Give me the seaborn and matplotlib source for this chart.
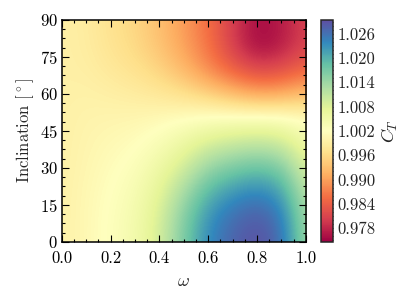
import matplotlib

matplotlib.use("Agg")
import matplotlib.pyplot as plt
import numpy as np
import seaborn as sns
from matplotlib.ticker import AutoMinorLocator, FixedLocator, FormatStrFormatter

# omega on x, inclination (deg) on y
OMEGA = [0.0, 0.1, 0.2, 0.3, 0.4, 0.5, 0.6, 0.7, 0.8, 0.9, 1.0]
INCL = [0, 10, 20, 30, 40, 50, 60, 70, 80, 90]

# C_T values, one row per inclination
CT_I00 = [0.9996, 1.0008, 1.0025, 1.0045, 1.0090, 1.0170, 1.0240, 1.0275, 1.0293, 1.0265, 1.0130]
CT_I10 = [0.9996, 1.0008, 1.0024, 1.0043, 1.0086, 1.0162, 1.0230, 1.0264, 1.0283, 1.0253, 1.0124]
CT_I20 = [0.9996, 1.0007, 1.0021, 1.0037, 1.0074, 1.0135, 1.0198, 1.0228, 1.0245, 1.0218, 1.0107]
CT_I30 = [0.9995, 1.0005, 1.0016, 1.0028, 1.0056, 1.0095, 1.0147, 1.0169, 1.0183, 1.0166, 1.0081]
CT_I40 = [0.9995, 1.0003, 1.0010, 1.0017, 1.0034, 1.0060, 1.0089, 1.0103, 1.0111, 1.0101, 1.0049]
CT_I50 = [0.9995, 1.0001, 1.0003, 1.0005, 1.0011, 1.0020, 1.0028, 1.0032, 1.0035, 1.0032, 1.0016]
CT_I60 = [0.9995, 0.9997, 0.9993, 0.9988, 0.9980, 0.9968, 0.9950, 0.9925, 0.9905, 0.9910, 0.9930]
CT_I70 = [0.9994, 0.9992, 0.9981, 0.9970, 0.9952, 0.9922, 0.9880, 0.9840, 0.9810, 0.9820, 0.9850]
CT_I80 = [0.9994, 0.9989, 0.9973, 0.9959, 0.9934, 0.9900, 0.9860, 0.9800, 0.9750, 0.9770, 0.9810]
CT_I90 = [0.9994, 0.9988, 0.9970, 0.9955, 0.9930, 0.9895, 0.9855, 0.9800, 0.9755, 0.9770, 0.9810]

CT_MIN, CT_MAX = 0.9746, 1.0294
CBAR_TICKS = [0.978, 0.984, 0.990, 0.996, 1.002, 1.008, 1.014, 1.020, 1.026]

sns.set_style("ticks")
plt.rcParams["font.family"] = ["serif"]
plt.rcParams["font.serif"] = ["cmr10", "DejaVu Serif"]
plt.rcParams["mathtext.fontset"] = "cm"
plt.rcParams["axes.formatter.use_mathtext"] = True

grid = np.array([CT_I00, CT_I10, CT_I20, CT_I30, CT_I40, CT_I50,
                 CT_I60, CT_I70, CT_I80, CT_I90])
dx = OMEGA[1] - OMEGA[0]
dy = INCL[1] - INCL[0]
cmap = sns.color_palette("Spectral", as_cmap=True)

fig = plt.figure(figsize=(4.15, 3.02), dpi=100)
ax = fig.add_axes([0.149, 0.199, 0.588, 0.735])
im = ax.imshow(
    grid,
    origin="lower",
    aspect="auto",
    interpolation="bicubic",
    cmap=cmap,
    vmin=CT_MIN,
    vmax=CT_MAX,
    extent=[OMEGA[0] - dx / 2, OMEGA[-1] + dx / 2, INCL[0] - dy / 2, INCL[-1] + dy / 2],
)
ax.set_xlim(0, 1)
ax.set_ylim(0, 90)
ax.set_xticks([0.0, 0.2, 0.4, 0.6, 0.8, 1.0])
ax.set_yticks([0, 15, 30, 45, 60, 75, 90])
ax.xaxis.set_major_formatter(FormatStrFormatter("%.1f"))
ax.xaxis.set_minor_locator(AutoMinorLocator(4))
ax.yaxis.set_minor_locator(AutoMinorLocator(4))
ax.tick_params(which="both", direction="in", top=True, right=True, colors="black",
               labelsize=12, width=0.8)
ax.tick_params(which="major", length=5)
ax.tick_params(axis="x", which="major", pad=6)
ax.tick_params(axis="y", which="major", pad=3)
ax.tick_params(which="minor", length=2.5)
for s in ax.spines.values():
    s.set_linewidth(1.1)
    s.set_color("black")
ax.set_xlabel(r"$\omega$", fontsize=13, labelpad=6)
ax.set_ylabel(r"Inclination [$^\circ$]", fontsize=12, labelpad=3)

cax = fig.add_axes([0.7735, 0.199, 0.029, 0.735])
cb = fig.colorbar(im, cax=cax)
cb.outline.set_linewidth(1.1)
cax.yaxis.set_major_locator(FixedLocator(CBAR_TICKS))
cax.yaxis.set_minor_locator(FixedLocator(np.arange(0.975, 1.0295, 0.001)))
cax.yaxis.set_major_formatter(FormatStrFormatter("%.3f"))
cax.tick_params(which="both", direction="in", right=True, left=False, labelsize=12, width=0.8)
cax.tick_params(which="major", length=5, pad=3)
cax.tick_params(which="minor", length=2.5)
cb.set_label(r"$C_T$", fontsize=13, labelpad=3)

fig.savefig("out.png", dpi=100)
